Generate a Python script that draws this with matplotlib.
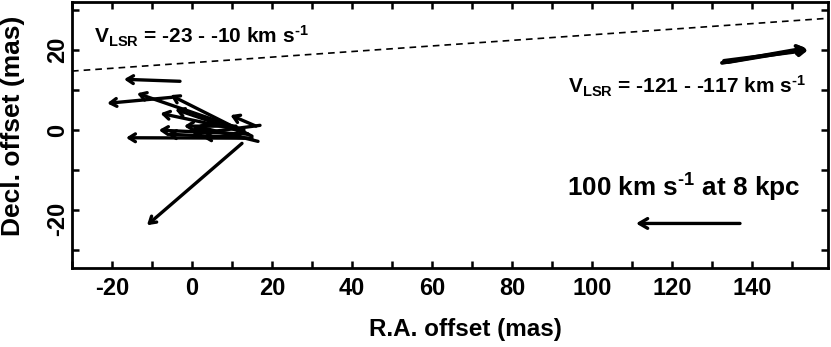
import matplotlib
matplotlib.use("Agg")
import matplotlib.pyplot as plt
from matplotlib.transforms import ScaledTranslation

# ---- data (mas) ----
# proper-motion vectors: tail (x0, y0) -> head (x1, y1)
cl_x0 = [-3.0, -5.0, 13.0, 15.0, 12.0, 14.0, 13.0, 14.0, 15.0, 12.0, 16.0, 12.5, 17.0, 16.5, 10.0, 11.0]
cl_y0 = [12.2, 8.2, 0.0, -1.5, 0.0, -1.0, -2.0, -1.0, -2.0, -1.5, 1.0, -3.3, 1.2, -2.8, -1.0, 1.0]
cl_x1 = [-17.0, -21.2, -13.75, -5.4, -7.9, -4.2, -16.5, -8.3, -6.25, 2.5, 9.6, -11.25, 0.0, 1.0, 0.0, -2.0]
cl_y1 = [12.7, 6.7, 9.2, 8.75, 4.2, 5.2, -1.9, 0.0, -1.0, -1.7, 3.75, -23.75, -1.0, 1.0, 0.5, 1.0]

hv_x0 = [132.5, 133.0, 134.0]
hv_y0 = [16.8, 17.3, 17.0]
hv_x1 = [153.5, 154.0, 153.8]
hv_y1 = [20.5, 20.0, 20.3]

ref_x = [137.0, 111.0]
ref_y = [-23.3, -23.3]

sep_x = [-30.0, 160.0]
sep_y = [14.75, 28.0]

xtick_vals = list(range(-30, 160, 10))
xtick_labels = [str(v) if v % 20 == 0 and -20 <= v <= 140 else "" for v in xtick_vals]
ytick_vals = [-30, -20, -10, 0, 10, 20, 30]
ytick_labels = ["", "-20", "", "0", "", "20", ""]

label_low = r"V$_{\text{LSR}}$ = -23 - -10 km s$^{\text{-1}}$"
label_high = r"V$_{\text{LSR}}$ = -121 - -117 km s$^{\text{-1}}$"
label_ref = r"100 km s$^{\text{-1}}$ at 8 kpc"

# ---- fonts ----
fam = "Liberation Sans"
plt.rcParams["font.family"] = [fam, "DejaVu Sans"]
plt.rcParams["font.weight"] = "bold"
plt.rcParams["axes.labelweight"] = "bold"
plt.rcParams["mathtext.fontset"] = "custom"
plt.rcParams["mathtext.rm"] = fam + ":bold"
plt.rcParams["mathtext.it"] = fam + ":bold"
plt.rcParams["mathtext.bf"] = fam + ":bold"

fig = plt.figure(figsize=(8.31, 3.47), dpi=100)
ax = fig.add_axes([72 / 831, 79.5 / 347, 756 / 831, 265.5 / 347])
ax.set_xlim(-30, 159)
ax.set_ylim(-34.3, 32)

for s in ax.spines.values():
    s.set_linewidth(2.0)

ax.set_xticks(xtick_vals)
ax.set_xticklabels(xtick_labels)
ax.set_yticks(ytick_vals)
ax.set_yticklabels(ytick_labels, rotation=90, va="center")
ax.set_xticks([0, 50, 100, 150], minor=True)
ax.set_yticks([0], minor=True)
ax.tick_params(which="major", direction="in", length=5, width=1.8,
               top=True, right=True, labelsize=17)
ax.tick_params(axis="x", which="major", pad=7)
ax.tick_params(axis="y", which="major", pad=2)
ax.tick_params(which="minor", direction="in", length=11, width=1.8,
               top=True, right=True, labelsize=0)
for lab in ax.get_yticklabels():
    if lab.get_text().startswith("-"):
        lab.set_transform(lab.get_transform() + ScaledTranslation(0, -6 / 72, fig.dpi_scale_trans))

ax.set_xlabel("R.A. offset (mas)", fontsize=17.5, fontweight="bold")
ax.set_ylabel("Decl. offset (mas)", fontsize=19, fontweight="bold")
ax.xaxis.set_label_coords(0.52, -0.19)
ax.yaxis.set_label_coords(-0.062, 0.535)

ax.plot(sep_x, sep_y, ls=(0, (4, 3)), color="black", lw=1.2)

aprops = dict(arrowstyle="->,head_length=0.45,head_width=0.28", color="black",
              lw=2.4, shrinkA=0, shrinkB=0)
for x0, y0, x1, y1 in zip(cl_x0, cl_y0, cl_x1, cl_y1):
    ax.annotate("", xy=(x1, y1), xytext=(x0, y0), arrowprops=aprops)
for x0, y0, x1, y1 in zip(hv_x0, hv_y0, hv_x1, hv_y1):
    ax.annotate("", xy=(x1, y1), xytext=(x0, y0), arrowprops=dict(aprops, lw=2.8))
ax.annotate("", xy=(ref_x[1], ref_y[1]), xytext=(ref_x[0], ref_y[0]),
            arrowprops=dict(arrowstyle="->,head_length=0.6,head_width=0.35",
                            color="black", lw=2.4, shrinkA=0, shrinkB=0))

ax.text(-24.5, 23.5, label_low, fontsize=15, ha="left", va="center")
ax.text(153.5, 11.0, label_high, fontsize=15, ha="right", va="center")
ax.text(123.0, -14.5, label_ref, fontsize=18.8, ha="center", va="center")

fig.savefig("out.png", dpi=100)
